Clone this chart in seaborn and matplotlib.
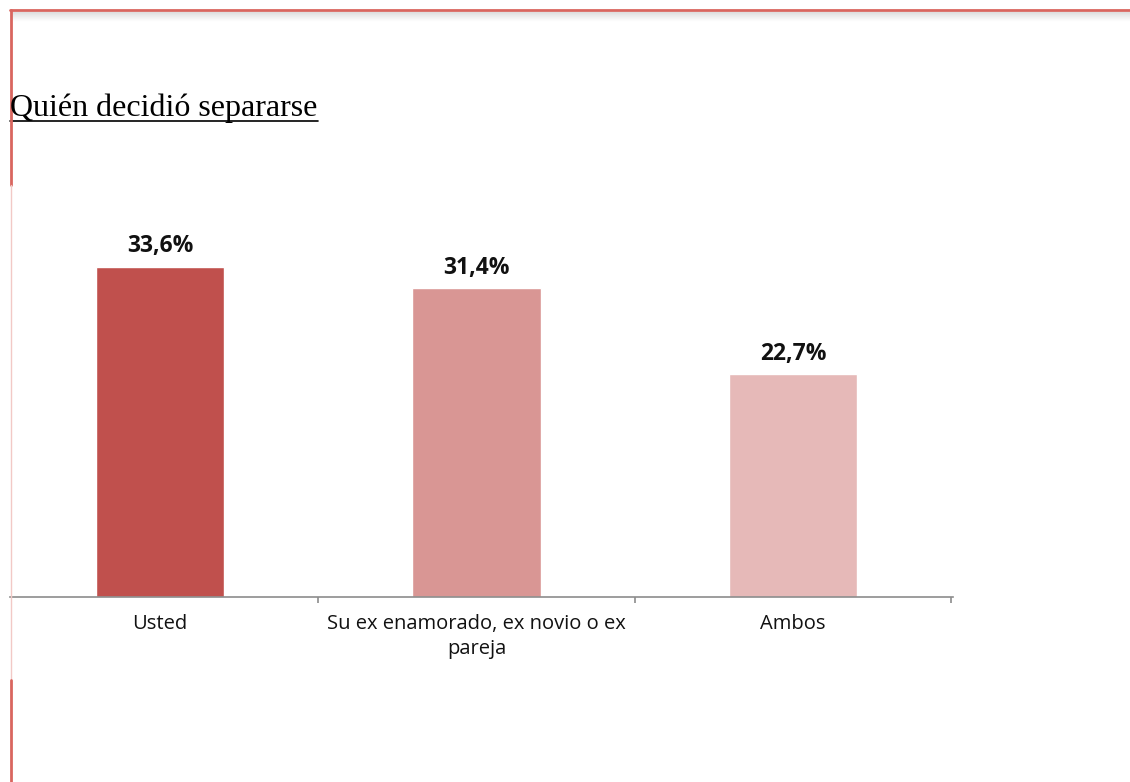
import matplotlib
matplotlib.use("Agg")
import matplotlib.pyplot as plt
from matplotlib.lines import Line2D
import seaborn as sns
import pandas as pd

categories = ["Usted", "Su ex enamorado, ex novio o ex\npareja", "Ambos"]
values = [33.6, 31.4, 22.7]
labels = ["33,6%", "31,4%", "22,7%"]
colors = ["#C0504D", "#D99694", "#E6B9B8"]
title = "Quién decidió separarse"

W, H = 1130, 782
sns.set_theme(style="white")
plt.rcParams["font.family"] = ["Open Sans", "DejaVu Sans"]

fig = plt.figure(figsize=(W / 100, H / 100), dpi=100)
fig.patch.set_facecolor("white")

# axes placed in pixel coords of the reference
x0, x1 = 10, 953
y_base, y_top = 597, 185
ax = fig.add_axes([x0 / W, 1 - y_base / H, (x1 - x0) / W, (y_base - y_top) / H])

df = pd.DataFrame({"cat": categories, "val": values})
sns.barplot(data=df, x="cat", y="val", hue="cat", palette=colors,
            width=0.405, legend=False, ax=ax, saturation=1)

unit = 316.5
ax.set_xlim((x0 - 160) / unit, (x1 - 160) / unit)
ax.set_ylim(0, (y_base - y_top) / 9.83)

for i, (v, lab) in enumerate(zip(values, labels)):
    ax.annotate(lab, (i, v), xytext=(0, 6), textcoords="offset points",
                ha="center", va="bottom", fontsize=16.5, fontweight="bold",
                color="#111111")

for s in ["top", "left", "right"]:
    ax.spines[s].set_visible(False)
ax.spines["bottom"].set_color("#8C8C8C")
ax.spines["bottom"].set_linewidth(1.2)
ax.set_yticks([])
ax.set_xlabel("")
ax.set_ylabel("")
ax.set_xticks(range(len(categories)))
ax.set_xticklabels(categories, fontsize=14.5, color="#111111", linespacing=1.3)
ax.tick_params(axis="x", which="major", length=0, pad=12.5)
ax.set_xticks([0.5, 1.5, 2.5], minor=True)
ax.tick_params(axis="x", which="minor", length=4, width=1.2, color="#8C8C8C",
               direction="out", bottom=True)

# title with underline
fig.text(10 / W, 1 - 116 / H, title, fontsize=23, family="Liberation Serif",
         color="black", ha="left", va="baseline")
fig.add_artist(Line2D([10 / W, 318 / W], [1 - 121 / H] * 2, color="black", lw=1.2))

# page frame: red top line with soft shadow, left red line
for k in range(1, 10):
    g = 0.86 + 0.014 * k
    fig.add_artist(Line2D([11 / W, 1], [1 - (11 + k) / H] * 2,
                          color=(g, g, g), lw=0.8))
fig.add_artist(Line2D([10 / W, 1], [1 - 10 / H] * 2, color="#D9665F", lw=2))
fig.add_artist(Line2D([10.5 / W] * 2, [1 - 10 / H, 1 - 185 / H], color="#D9665F", lw=2))
fig.add_artist(Line2D([10.5 / W] * 2, [1 - 185 / H, 1 - 680 / H], color="#F2C9C6", lw=1))
fig.add_artist(Line2D([10.5 / W] * 2, [1 - 680 / H, 0], color="#D9665F", lw=2))

fig.savefig("out.png", dpi=100, facecolor="white")
